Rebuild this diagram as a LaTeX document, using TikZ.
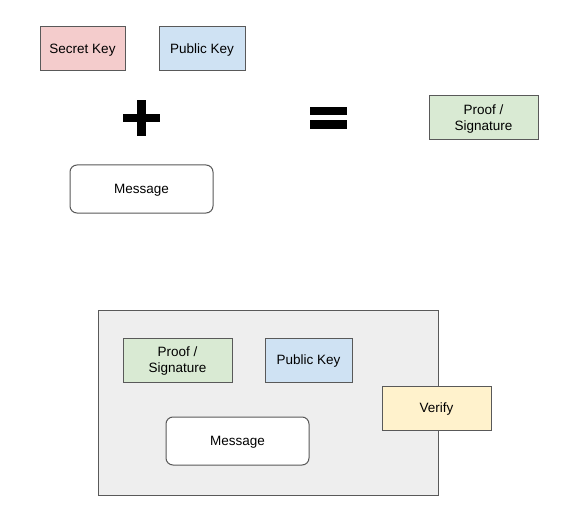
\documentclass[tikz,border=0pt]{standalone}
\usepackage{fontspec}
\setmainfont{Liberation Sans}
\definecolor{pinkf}{HTML}{F4CCCC}
\definecolor{bluef}{HTML}{CFE2F3}
\definecolor{greenf}{HTML}{D9EAD3}
\definecolor{yellowf}{HTML}{FFF2CC}
\definecolor{grayf}{HTML}{EEEEEE}
\definecolor{edge}{HTML}{595959}
\begin{document}
\begin{tikzpicture}[x=1pt,y=-1pt,
  box/.style={draw=edge, line width=1pt, inner sep=0pt, align=center, text depth=0pt, font=\fontsize{13.5}{16}\selectfont},
  msg/.style={box, fill=white, rounded corners=7pt},
  sym/.style={line width=8.5pt, black}]
\useasboundingbox[fill=white] (0,0) rectangle (577,521);
% top row
\node[box, fill=pinkf, minimum width=85pt, minimum height=44pt] (sk) at (82.5,49) {Secret Key};
\node[box, fill=bluef, minimum width=86pt, minimum height=44pt] (pk) at (202,49) {Public Key};
\node[box, fill=greenf, minimum width=109pt, minimum height=44pt] (sig) at (483.5,118) {Proof /\\Signature};
\node[msg, minimum width=143pt, minimum height=48pt] (m) at (141.5,189) {Message};
% plus and equals
\coordinate (plus) at (141.5,118);
\draw[sym] ([xshift=-18.5pt]plus) -- ([xshift=18.5pt]plus);
\draw[sym] ([yshift=-18pt]plus) -- ([yshift=18pt]plus);
\coordinate (eq) at (328.5,118);
\draw[sym] ([xshift=-18.5pt,yshift=-6.5pt]eq) -- ([xshift=18.5pt,yshift=-6.5pt]eq);
\draw[sym] ([xshift=-18.5pt,yshift=7pt]eq) -- ([xshift=18.5pt,yshift=7pt]eq);
% bottom panel
\node[draw=edge, line width=1pt, fill=grayf, minimum width=340pt, minimum height=185pt, inner sep=0pt] (panel) at (268,402.5) {};
\node[box, fill=greenf, minimum width=109pt, minimum height=44pt] (sig2) at (177.5,360) {Proof /\\Signature};
\node[box, fill=bluef, minimum width=87pt, minimum height=44pt] (pk2) at (308.5,360) {Public Key};
\node[msg, minimum width=143pt, minimum height=48pt] (m2) at (237.5,441) {Message};
\node[box, fill=yellowf, minimum width=109pt, minimum height=44pt] (ver) at (436.5,408) {Verify};
\end{tikzpicture}
\end{document}
